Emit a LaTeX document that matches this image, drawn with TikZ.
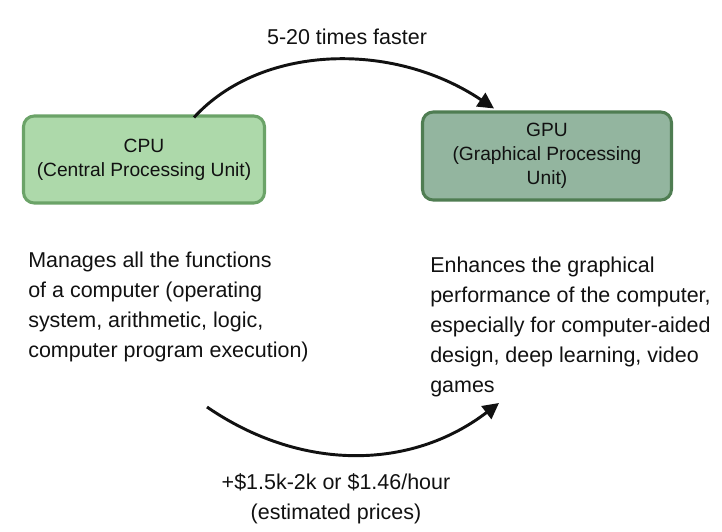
\documentclass[tikz,border=0pt]{standalone}
\usepackage{fontspec}
\setmainfont{Liberation Sans}
\usetikzlibrary{arrows.meta}
\definecolor{cpufill}{HTML}{ADD9AA}
\definecolor{cpuline}{HTML}{6BA368}
\definecolor{gpufill}{HTML}{93B59F}
\definecolor{gpuline}{HTML}{4F7D52}
\definecolor{ink}{HTML}{111111}
\tikzset{
  unitbox/.style={draw, line width=2.3pt, rounded corners=8pt, align=center, inner sep=0pt,
    font=\fontsize{14.4}{18}\selectfont, text=ink},
  desc/.style={align=left, inner sep=0pt, anchor=north west, font=\fontsize{16.1}{22.5}\selectfont, text=ink},
  label/.style={align=center, inner sep=0pt, font=\fontsize{16.1}{22.5}\selectfont, text=ink},
  curvearrow/.style={line width=2.2pt, ink, -{Triangle[length=12pt,width=12pt]}}
}
\begin{document}
\begin{tikzpicture}[x=0.75pt,y=-0.75pt]
\useasboundingbox (0,0) rectangle (722,532);
\node[unitbox, fill=cpufill, draw=cpuline, minimum width=241*0.75pt, minimum height=87*0.75pt] (cpu) at (144,159.5) {CPU\\(Central Processing Unit)};
\node[unitbox, fill=gpufill, draw=gpuline, minimum width=249*0.75pt, minimum height=88*0.75pt] (gpu) at (547,156) {GPU\\(Graphical Processing\\Unit)};
\node[label] (faster) at (347,37) {5-20 times faster};
\node[desc] (cpudesc) at (28,252) {Manages all the functions\\of a computer (operating\\system, arithmetic, logic,\\computer program execution)};
\node[desc] (gpudesc) at (430,257) {Enhances the graphical\\performance of the computer,\\especially for computer-aided\\design, deep learning, video\\games};
\node[label, anchor=north] (price) at (336,473) {+\$1.5k-2k or \$1.46/hour\\(estimated prices)};
\coordinate (topstart) at ([shift={(50,3)}]cpu.north);
\coordinate (topend) at ([shift={(-53,-2)}]gpu.north);
\draw[curvearrow] (topstart) .. controls (260,45) and (392,40) .. (topend);
\coordinate (botstart) at (207,407);
\coordinate (botend) at (499,403);
\draw[curvearrow] (botstart) .. controls (300,471) and (410,471) .. (botend);
\end{tikzpicture}
\end{document}
